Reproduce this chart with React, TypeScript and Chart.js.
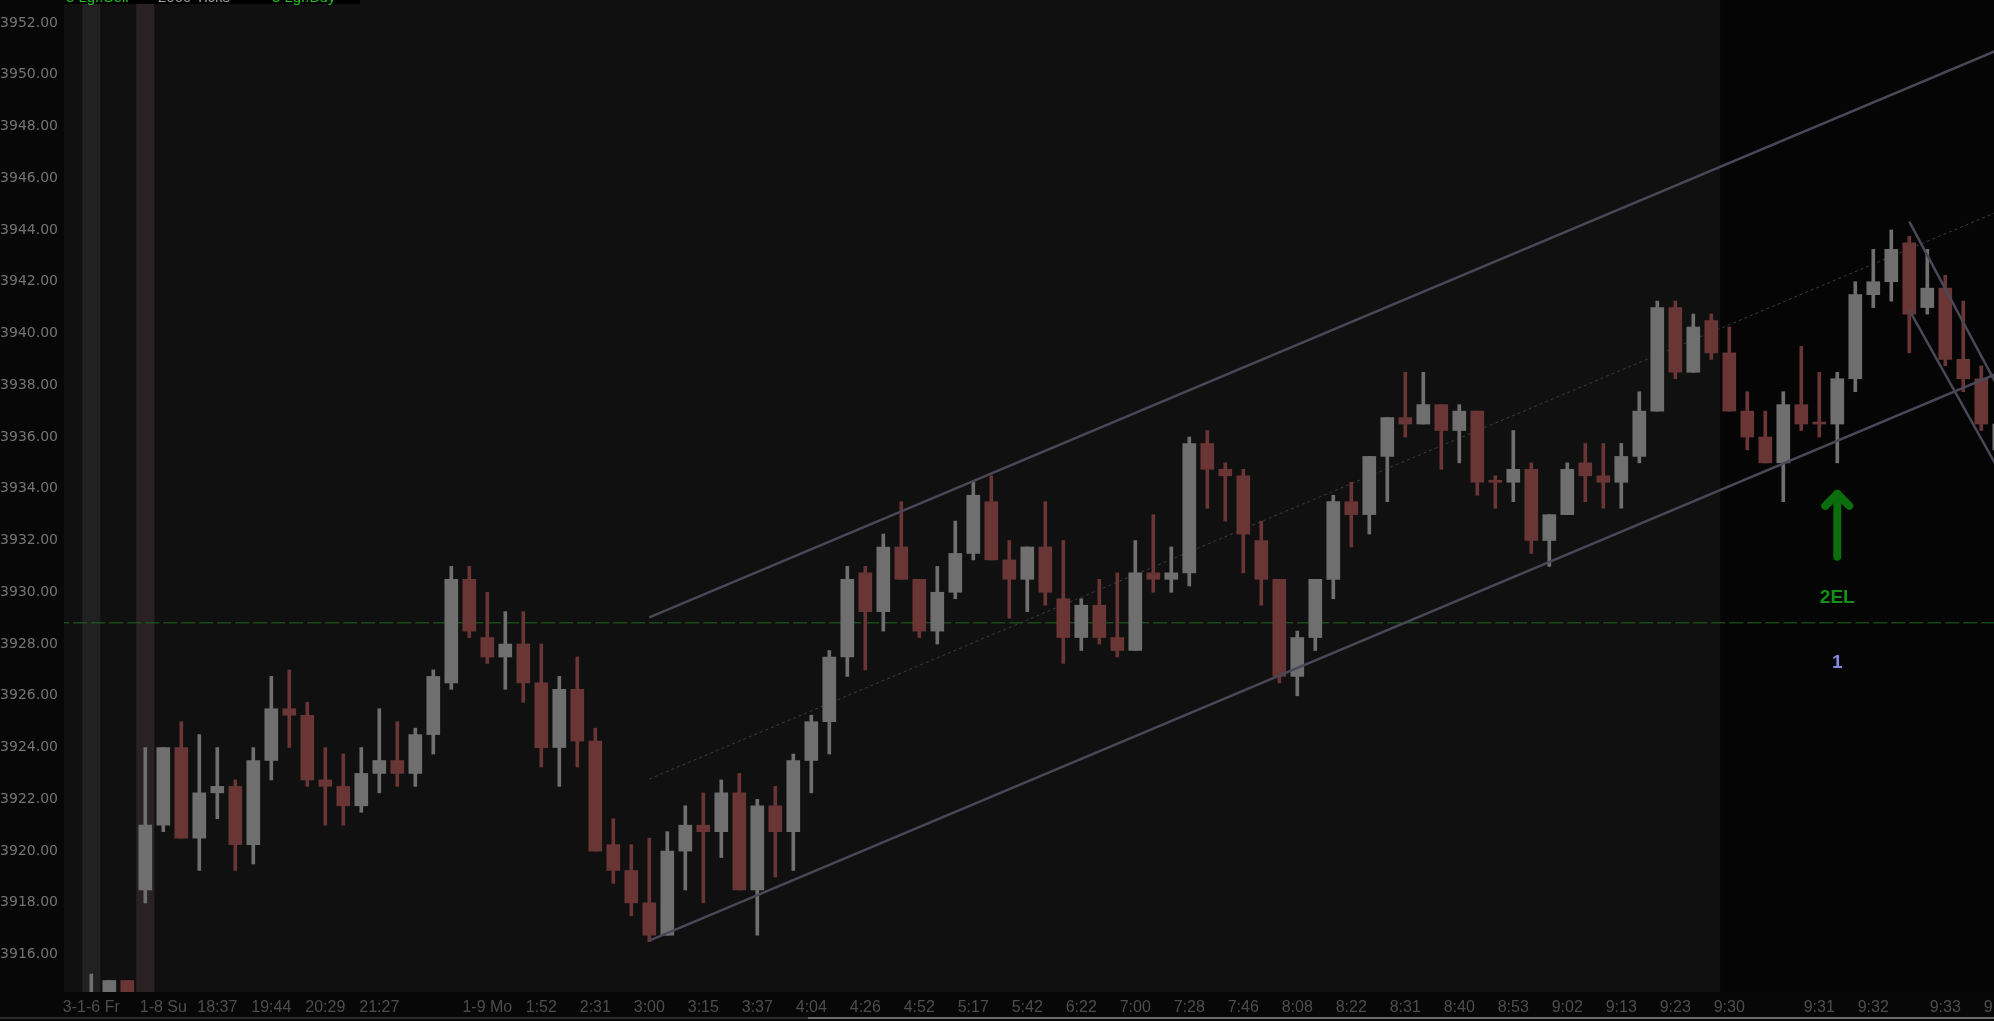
import React, { useEffect, useRef } from "react";
import { Chart, registerables } from "chart.js";

Chart.register(...registerables);

// ---- OHLC per bar (bar index 0..106) ----
const opens = [
  3913.75, 3913.5, 3915.0, 3918.5, 3921.0, 3924.0, 3920.5, 3922.25, 3922.5, 3920.25,
  3923.5, 3925.5, 3925.25, 3922.75, 3922.5, 3921.75, 3923.0, 3923.5, 3923.0, 3924.5,
  3926.5, 3930.5, 3928.25, 3927.5, 3928.0, 3926.5, 3924.0, 3926.25, 3924.25, 3920.25,
  3919.25, 3918.0, 3916.75, 3920.0, 3921.0, 3920.75, 3922.25, 3918.5, 3921.75, 3920.75,
  3923.5, 3925.0, 3927.5, 3930.75, 3929.25, 3931.75, 3930.5, 3928.5, 3930.0, 3931.5,
  3933.5, 3931.25, 3930.5, 3931.75, 3929.75, 3928.25, 3929.5, 3928.25, 3927.75, 3930.75,
  3930.5, 3930.75, 3935.75, 3934.75, 3934.5, 3932.0, 3930.5, 3926.75, 3928.25, 3930.5,
  3933.5, 3933.0, 3935.25, 3936.75, 3936.5, 3937.25, 3936.25, 3937.0, 3934.25, 3934.25,
  3934.75, 3932.0, 3933.0, 3935.0, 3934.5, 3934.25, 3935.25, 3937.0, 3941.0, 3938.5,
  3940.5, 3939.25, 3937.0, 3936.0, 3935.0, 3937.25, 3936.5, 3936.5, 3938.25, 3941.5,
  3942.0, 3943.5, 3941.0, 3941.75, 3939.0, 3938.25, 3935.5,
];
const highs = [
  3915.25, 3915.0, 3915.0, 3924.0, 3924.0, 3925.0, 3924.5, 3924.0, 3922.75, 3924.0,
  3926.75, 3927.0, 3925.75, 3924.0, 3923.75, 3924.0, 3925.5, 3925.0, 3924.75, 3927.0,
  3931.0, 3931.0, 3930.0, 3929.25, 3929.25, 3928.0, 3926.75, 3927.5, 3924.75, 3921.25,
  3920.25, 3920.5, 3920.75, 3921.75, 3922.25, 3922.75, 3923.0, 3922.0, 3922.5, 3923.75,
  3925.25, 3927.75, 3931.0, 3931.0, 3932.25, 3933.5, 3930.5, 3931.0, 3932.75, 3934.25,
  3934.5, 3932.0, 3931.75, 3933.5, 3932.0, 3929.75, 3930.5, 3930.75, 3932.0, 3933.0,
  3931.75, 3936.0, 3936.25, 3935.0, 3934.75, 3932.75, 3930.5, 3928.5, 3930.5, 3933.75,
  3934.25, 3935.25, 3936.75, 3938.5, 3938.5, 3937.25, 3937.25, 3937.0, 3934.5, 3936.25,
  3935.0, 3933.0, 3935.0, 3935.75, 3935.75, 3935.75, 3937.75, 3941.25, 3941.25, 3940.75,
  3940.75, 3940.25, 3937.75, 3937.0, 3937.75, 3939.5, 3938.5, 3938.5, 3942.0, 3943.25,
  3944.0, 3943.75, 3943.25, 3942.25, 3941.25, 3938.75, 3936.5,
];
const lows = [
  3913.5, 3913.25, 3913.25, 3918.0, 3920.75, 3920.5, 3919.25, 3921.25, 3919.25, 3919.5,
  3922.75, 3924.0, 3922.5, 3921.0, 3921.0, 3921.5, 3922.25, 3922.5, 3922.5, 3923.75,
  3926.25, 3928.25, 3927.25, 3926.25, 3925.75, 3923.25, 3922.5, 3923.25, 3920.0, 3918.75,
  3917.5, 3916.5, 3916.75, 3918.5, 3918.0, 3919.75, 3918.5, 3916.75, 3919.0, 3919.25,
  3922.25, 3923.75, 3926.75, 3927.0, 3928.5, 3930.5, 3928.25, 3928.0, 3929.75, 3931.25,
  3931.25, 3929.0, 3929.25, 3929.5, 3927.25, 3927.75, 3928.0, 3927.5, 3927.75, 3930.0,
  3930.0, 3930.25, 3933.25, 3932.75, 3930.75, 3929.5, 3926.5, 3926.0, 3927.75, 3929.75,
  3931.75, 3932.25, 3933.5, 3936.0, 3936.5, 3934.75, 3935.0, 3933.75, 3933.25, 3933.5,
  3931.5, 3931.0, 3933.0, 3933.5, 3933.25, 3933.25, 3935.0, 3937.0, 3938.25, 3938.5,
  3939.0, 3937.0, 3935.5, 3935.0, 3933.5, 3936.25, 3936.0, 3935.0, 3937.75, 3941.0,
  3941.25, 3939.25, 3940.75, 3938.75, 3937.75, 3936.25, 3935.25,
];
const closes = [
  3914.0, 3915.0, 3913.5, 3921.0, 3924.0, 3920.5, 3922.25, 3922.5, 3920.25, 3923.5,
  3925.5, 3925.25, 3922.75, 3922.5, 3921.75, 3923.0, 3923.5, 3923.0, 3924.5, 3926.75,
  3930.5, 3928.5, 3927.5, 3928.0, 3926.5, 3924.0, 3926.25, 3924.25, 3920.0, 3919.25,
  3918.0, 3916.75, 3920.0, 3921.0, 3920.75, 3922.25, 3918.5, 3921.75, 3920.75, 3923.5,
  3925.0, 3927.5, 3930.5, 3929.25, 3931.75, 3930.5, 3928.5, 3930.0, 3931.5, 3933.75,
  3931.25, 3930.5, 3931.75, 3930.0, 3928.25, 3929.5, 3928.25, 3927.75, 3930.75, 3930.5,
  3930.75, 3935.75, 3934.75, 3934.5, 3932.25, 3930.5, 3926.75, 3928.25, 3930.5, 3933.5,
  3933.0, 3935.25, 3936.75, 3936.5, 3937.25, 3936.25, 3937.0, 3934.25, 3934.25, 3934.75,
  3932.0, 3933.0, 3934.75, 3934.5, 3934.25, 3935.25, 3937.0, 3941.0, 3938.5, 3940.25,
  3939.25, 3937.0, 3936.0, 3935.0, 3937.25, 3936.5, 3936.5, 3938.25, 3941.5, 3942.0,
  3943.25, 3940.75, 3941.75, 3939.0, 3938.25, 3936.5, 3936.5,
];

// ---- axis labels ----
const xTickBars = [0, 4, 7, 10, 13, 16, 22, 25, 28, 31, 34, 37, 40, 43, 46, 49, 52, 55, 58, 61, 64, 67, 70, 73, 76, 79, 82, 85, 88, 91, 96, 99, 103, 106];
const xTickLabels = ["3-1-6 Fr", "1-8 Su", "18:37", "19:44", "20:29", "21:27", "1-9 Mo", "1:52", "2:31", "3:00", "3:15", "3:37", "4:04", "4:26", "4:52", "5:17", "5:42", "6:22", "7:00", "7:28", "7:46", "8:08", "8:22", "8:31", "8:40", "8:53", "9:02", "9:13", "9:23", "9:30", "9:31", "9:32", "9:33", "9:34"];
const yTicks = [3916, 3918, 3920, 3922, 3924, 3926, 3928, 3930, 3932, 3934, 3936, 3938, 3940, 3942, 3944, 3946, 3948, 3950, 3952];

// ---- drawn studies (bar index, price) ----
const channelUpper = [{ x: 31, y: 3929.03 }, { x: 108, y: 3951.56 }];
const channelLower = [{ x: 31, y: 3916.54 }, { x: 108, y: 3939.07 }];
const channelMid = [{ x: 31, y: 3922.785 }, { x: 108, y: 3945.315 }];
const wedgeUpper = [{ x: 101, y: 3944.32 }, { x: 108, y: 3935.23 }];
const wedgeLower = [{ x: 101, y: 3940.9 }, { x: 108, y: 3932.2 }];
const refLevel = 3928.82;
const signalBar = 97;
const signalText = "2EL";
const signalCount = "1";
const grayBandBars = [0];
const brownBandBars = [3];
const sessionStart = 90.5;
const headerSegments = ["3 Lgr.Sell", "2000 Ticks", "3 Lgr.Buy"];

const Y_MIN = 3914.555;
const Y_MAX = 3952.885;
const X_MIN = -1.5167;
const X_MAX = 105.706;

export default function App() {
  const ref = useRef<HTMLCanvasElement>(null);

  useEffect(() => {
    const canvas = ref.current;
    if (!canvas) return;
    const up = "#6f6f6f";
    const down = "#6a3535";
    const colors = opens.map((o, i) => (closes[i] > o ? up : down));
    const idx = opens.map((_, i) => i);

    const bgPlugin = {
      id: "bgPlugin",
      beforeDraw(chart: any) {
        const { ctx, chartArea: a, scales } = chart;
        const x = scales.x;
        ctx.save();
        ctx.fillStyle = "#070707";
        ctx.fillRect(0, 0, chart.width, chart.height);
        ctx.fillStyle = "#101010";
        ctx.fillRect(a.left, a.top, a.right - a.left, a.bottom - a.top);
        const rx = x.getPixelForValue(sessionStart);
        ctx.fillStyle = "#050505";
        ctx.fillRect(rx, a.top, a.right - rx, a.bottom - a.top);
        const half = (x.getPixelForValue(1) - x.getPixelForValue(0)) / 2;
        ctx.fillStyle = "#212121";
        grayBandBars.forEach((b) => {
          const p = x.getPixelForValue(b);
          ctx.fillRect(p - half, a.top, half * 2, a.bottom - a.top);
        });
        ctx.fillStyle = "#2a2222";
        brownBandBars.forEach((b) => {
          const p = x.getPixelForValue(b);
          ctx.fillRect(p - half, a.top, half * 2, a.bottom - a.top);
        });
        ctx.restore();
      },
      afterDatasetsDraw(chart: any) {
        const { ctx, scales } = chart;
        const px = scales.x.getPixelForValue(signalBar);
        const py = scales.y.getPixelForValue(lows[signalBar]);
        ctx.save();
        ctx.strokeStyle = "#0b6d0b";
        ctx.lineWidth = 8;
        ctx.lineCap = "round";
        ctx.lineJoin = "round";
        const tip = py + 31;
        ctx.beginPath();
        ctx.moveTo(px, py + 94);
        ctx.lineTo(px, tip);
        ctx.stroke();
        ctx.beginPath();
        ctx.moveTo(px - 12, tip + 12);
        ctx.lineTo(px, tip);
        ctx.lineTo(px + 12, tip + 12);
        ctx.stroke();
        ctx.textAlign = "center";
        ctx.textBaseline = "middle";
        ctx.fillStyle = "#149014";
        ctx.font = 'bold 19px "Liberation Sans", Arial, sans-serif';
        ctx.fillText(signalText, px, py + 135);
        ctx.fillStyle = "#8686e0";
        ctx.font = 'bold 19px "Liberation Sans", Arial, sans-serif';
        ctx.fillText(signalCount, px, py + 200);
        ctx.restore();
      },
      afterDraw(chart: any) {
        const { ctx } = chart;
        ctx.save();
        ctx.fillStyle = "#000000";
        ctx.fillRect(64, 0, 296, 4);
        ctx.font = '15px "Liberation Sans", Arial, sans-serif';
        ctx.textBaseline = "alphabetic";
        ctx.textAlign = "left";
        const xs = [66, 158, 272];
        const cs = ["#22c022", "#9a9a9a", "#22c022"];
        headerSegments.forEach((t, i) => {
          ctx.fillStyle = cs[i];
          ctx.fillText(t, xs[i], 2);
        });
        ctx.fillStyle = "#2a2a2a";
        ctx.fillRect(0, 1017, chart.width, 2);
        ctx.fillStyle = "#6c6c6c";
        ctx.fillRect(808, 1017, chart.width - 808, 2);
        ctx.restore();
      },
    };

    const lineBase = { type: "line" as const, pointRadius: 0, fill: false, tension: 0 };

    const chart = new Chart(canvas, {
      type: "bar",
      data: {
        datasets: [
          { ...lineBase, data: channelUpper, borderColor: "#4a4757", borderWidth: 2.5, order: 0 } as any,
          { ...lineBase, data: channelLower, borderColor: "#4a4757", borderWidth: 2.5, order: 0 } as any,
          { ...lineBase, data: wedgeUpper, borderColor: "#4a4757", borderWidth: 2.5, order: 0 } as any,
          { ...lineBase, data: wedgeLower, borderColor: "#4a4757", borderWidth: 2.5, order: 0 } as any,
          {
            type: "bar",
            data: idx.map((i) => ({ x: i, y: [opens[i], closes[i]] })),
            backgroundColor: colors,
            borderWidth: 0,
            barThickness: 13,
            grouped: false,
            minBarLength: 2,
            order: 1,
          } as any,
          {
            type: "bar",
            data: idx.map((i) => ({ x: i, y: [lows[i], highs[i]] })),
            backgroundColor: colors,
            borderWidth: 0,
            barThickness: 3,
            grouped: false,
            order: 2,
          } as any,
          { ...lineBase, data: channelMid, borderColor: "#3c3c3c", borderWidth: 1, borderDash: [3, 3], order: 3 } as any,
          {
            ...lineBase,
            data: [{ x: -3, y: refLevel }, { x: 110, y: refLevel }],
            borderColor: "#1d6a1d",
            borderWidth: 1,
            borderDash: [14, 4],
            order: 4,
          } as any,
        ],
      },
      options: {
        animation: false,
        responsive: false,
        layout: { padding: 0, autoPadding: false } as any,
        plugins: { legend: { display: false }, tooltip: { enabled: false } },
        scales: {
          x: {
            type: "linear",
            min: X_MIN,
            max: X_MAX,
            offset: false,
            grid: { display: false, drawTicks: false },
            border: { display: false },
            ticks: {
              color: "#4d4d4d",
              font: { family: '"Liberation Sans Narrow", "Liberation Sans", Arial, sans-serif', size: 16 },
              padding: 6,
              autoSkip: false,
              maxRotation: 0,
              minRotation: 0,
              callback: (v: any) => {
                const k = xTickBars.indexOf(Number(v));
                return k >= 0 ? xTickLabels[k] : "";
              },
            },
            afterBuildTicks: (s: any) => {
              s.ticks = xTickBars.map((v) => ({ value: v }));
            },
            afterFit: (s: any) => {
              s.height = 29;
              s.paddingLeft = 0;
              s.paddingRight = 0;
              s.paddingTop = 0;
              s.paddingBottom = 0;
            },
          } as any,
          y: {
            type: "linear",
            min: Y_MIN,
            max: Y_MAX,
            grid: { display: false, drawTicks: false },
            border: { display: false },
            ticks: {
              color: "#747474",
              font: { family: '"DejaVu Sans", sans-serif', size: 14 },
              padding: 6,
              callback: (v: any) => Number(v).toFixed(2),
            },
            afterBuildTicks: (s: any) => {
              s.ticks = yTicks.map((v) => ({ value: v }));
            },
            afterFit: (s: any) => {
              s.width = 64;
              s.paddingLeft = 0;
              s.paddingRight = 0;
              s.paddingTop = 0;
              s.paddingBottom = 0;
            },
          } as any,
        },
      },
      plugins: [bgPlugin],
    });

    return () => chart.destroy();
  }, []);

  return (
    <div style={{ position: "fixed", left: 0, top: 0, width: 1994, height: 1021, background: "#000" }}>
      <canvas ref={ref} width={1994} height={1021} style={{ display: "block", width: 1994, height: 1021 }} />
    </div>
  );
}
